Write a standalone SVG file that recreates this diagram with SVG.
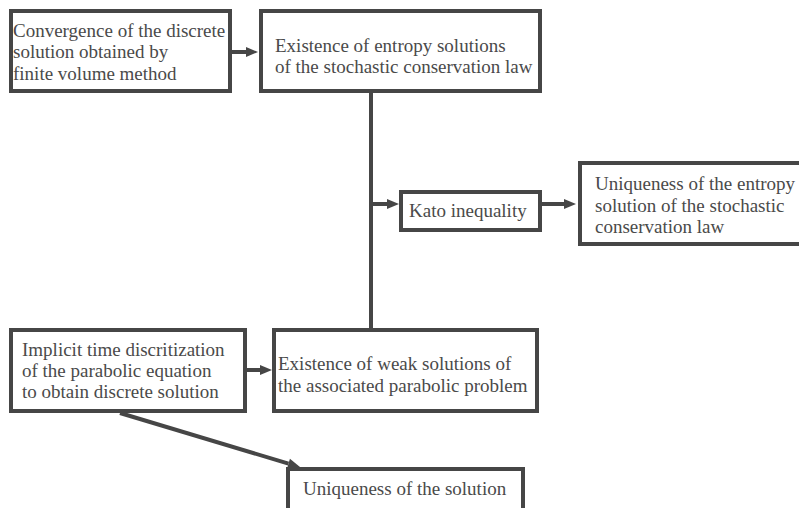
<svg xmlns="http://www.w3.org/2000/svg" width="799" height="508" viewBox="0 0 799 508">
<style>
.box{fill:#fff;stroke:#464646;stroke-width:4}
.ln{fill:none;stroke:#464646;stroke-width:4}
</style>
<defs>
<marker id="ah" markerWidth="3" markerHeight="2.5" refX="0" refY="1.25" orient="auto" markerUnits="strokeWidth" overflow="visible">
<path d="M0,0 L3,1.25 L0,2.5 Z" fill="#464646"/>
</marker>
</defs>
<rect width="799" height="508" fill="#fff"/>
<g id="connectors">
<line class="ln" x1="232" y1="52" x2="246" y2="52" marker-end="url(#ah)"/>
<line class="ln" x1="371" y1="93" x2="371" y2="328"/>
<line class="ln" x1="371" y1="204" x2="387" y2="204" marker-end="url(#ah)"/>
<line class="ln" x1="542" y1="204" x2="564" y2="204" marker-end="url(#ah)"/>
<line class="ln" x1="247" y1="370" x2="260" y2="370" marker-end="url(#ah)"/>
<line class="ln" x1="120" y1="413" x2="288.5" y2="463.6" marker-end="url(#ah)"/>
</g>
<g id="n1">
<rect class="box" x="11" y="11" width="219" height="80"/>
<text x="13" y="37" font-family="Times New Roman" font-size="19" fill="#4a4a4a">Convergence of the discrete</text>
<text x="13" y="58" font-family="Times New Roman" font-size="19" fill="#4a4a4a">solution obtained by</text>
<text x="13" y="80" font-family="Times New Roman" font-size="19" fill="#4a4a4a">finite volume method</text>
</g>
<g id="n2">
<rect class="box" x="261" y="11" width="279" height="80"/>
<text x="275" y="52" font-family="Times New Roman" font-size="19" fill="#4a4a4a">Existence of entropy solutions</text>
<text x="275" y="73" font-family="Times New Roman" font-size="19" fill="#4a4a4a">of the stochastic conservation law</text>
</g>
<g id="n3">
<rect class="box" x="401" y="192" width="139" height="38"/>
<text x="409" y="217" font-family="Times New Roman" font-size="19" fill="#4a4a4a">Kato inequality</text>
</g>
<g id="n4">
<rect class="box" x="580" y="163" width="222" height="81"/>
<text x="595" y="190" font-family="Times New Roman" font-size="19" fill="#4a4a4a">Uniqueness of the entropy</text>
<text x="595" y="212" font-family="Times New Roman" font-size="19" fill="#4a4a4a">solution of the stochastic</text>
<text x="595" y="233" font-family="Times New Roman" font-size="19" fill="#4a4a4a">conservation law</text>
</g>
<g id="n5">
<rect class="box" x="11" y="330" width="234" height="81"/>
<text x="22" y="356" font-family="Times New Roman" font-size="19" fill="#4a4a4a">Implicit time discritization</text>
<text x="22" y="377" font-family="Times New Roman" font-size="19" fill="#4a4a4a">of the parabolic equation</text>
<text x="22" y="398" font-family="Times New Roman" font-size="19" fill="#4a4a4a">to obtain discrete solution</text>
</g>
<g id="n6">
<rect class="box" x="274" y="330" width="263" height="81"/>
<text x="278" y="370" font-family="Times New Roman" font-size="19" fill="#4a4a4a">Existence of weak solutions of</text>
<text x="278" y="392" font-family="Times New Roman" font-size="19" fill="#4a4a4a">the associated parabolic problem</text>
</g>
<g id="n7">
<rect class="box" x="288" y="469" width="235" height="60"/>
<text x="303" y="495" font-family="Times New Roman" font-size="19" fill="#4a4a4a">Uniqueness of the solution</text>
</g>
</svg>
